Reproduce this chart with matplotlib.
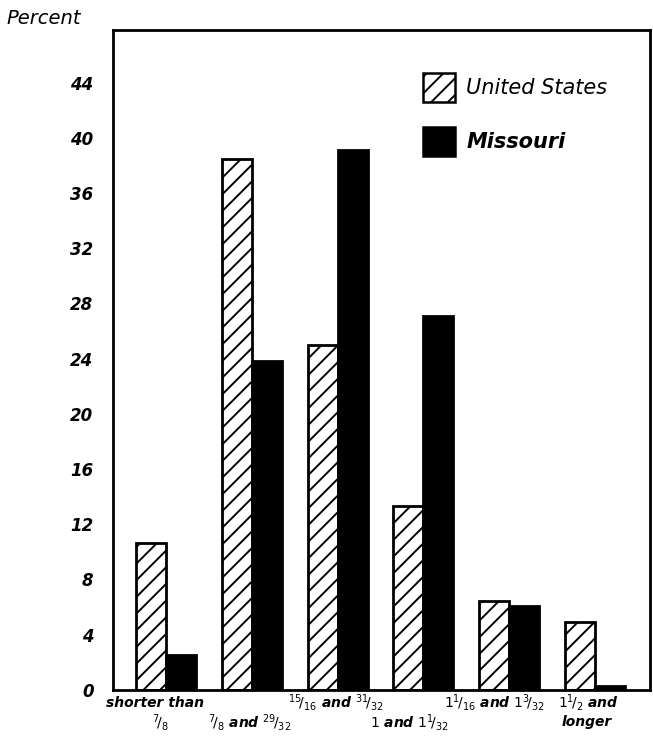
import matplotlib
matplotlib.use("Agg")
import numpy as np
import matplotlib.pyplot as plt
from matplotlib.patches import Rectangle

# values (percent of crop by staple length)
groups = ["shorter than 7/8", "7/8 and 29/32", "15/16 and 31/32",
          "1 and 1 1/32", "1 1/16 and 1 3/32", "1 1/2 and longer"]
us_vals = [10.6, 38.5, 25.0, 13.3, 6.4, 4.9]
mo_vals = [2.5, 23.8, 39.1, 27.1, 6.1, 0.3]
yticks = list(range(0, 45, 4))

# label pieces as lettered under the bars (text, x in group units, row)
label_parts = [
    ("shorter than", -0.13, 0),
    (r"$^{7}\!/_{8}$", -0.07, 1),
    (r"$^{7}\!/_{8}$ and $^{29}\!/_{32}$", 0.98, 1),
    (r"$^{15}\!/_{16}$ and $^{31}\!/_{32}$", 1.98, 0),
    (r"$1$ and $1^{1}\!/_{32}$", 2.84, 1),
    (r"$1^{1}\!/_{16}$ and $1^{3}\!/_{32}$", 3.83, 0),
    (r"$1^{1}\!/_{2}$ and", 4.92, 0),
    ("longer", 4.90, 1),
]
row_y = [-0.95, -2.35]

plt.rcParams['hatch.linewidth'] = 1.4
plt.rcParams['mathtext.fontset'] = 'dejavusans'
plt.rcParams['mathtext.default'] = 'it'

fig = plt.figure(figsize=(6.53, 7.4), dpi=100)
ax = fig.add_axes([0.173, 0.068, 0.822, 0.891])

x = np.arange(len(groups))
w = 0.35
ax.bar(x - w/2, us_vals, w, facecolor='white', edgecolor='black',
       linewidth=2, hatch='//')
ax.bar(x + w/2, mo_vals, w, facecolor='black', edgecolor='black', linewidth=2)

ax.set_xlim(-0.62, 5.64)
ax.set_ylim(0, 47.8)
ax.set_yticks(yticks)
ax.set_yticklabels([str(t) for t in yticks], fontsize=12, style='italic',
                   fontweight='bold')
ax.tick_params(axis='y', length=0, pad=14)
ax.set_xticks([])
for s in ax.spines.values():
    s.set_linewidth(2)

for txt, lx, row in label_parts:
    ax.text(lx, row_y[row], txt, ha='center', va='center', fontsize=10,
            style='italic', fontweight='bold', clip_on=False)

fig.text(0.01, 0.968, "Percent", fontsize=14, style='italic')

# legend drawn by hand like the original
ax.add_patch(Rectangle((3.0, 42.6), 0.37, 2.1, facecolor='white',
                       edgecolor='black', linewidth=1.8, hatch='//'))
ax.add_patch(Rectangle((3.0, 38.7), 0.37, 2.1, facecolor='black',
                       edgecolor='black', linewidth=1.8))
ax.text(3.5, 43.6, "United States", fontsize=15, style='italic', va='center')
ax.text(3.5, 39.7, "Missouri", fontsize=15, style='italic',
        fontweight='bold', va='center')

fig.savefig("out.png", dpi=100)
